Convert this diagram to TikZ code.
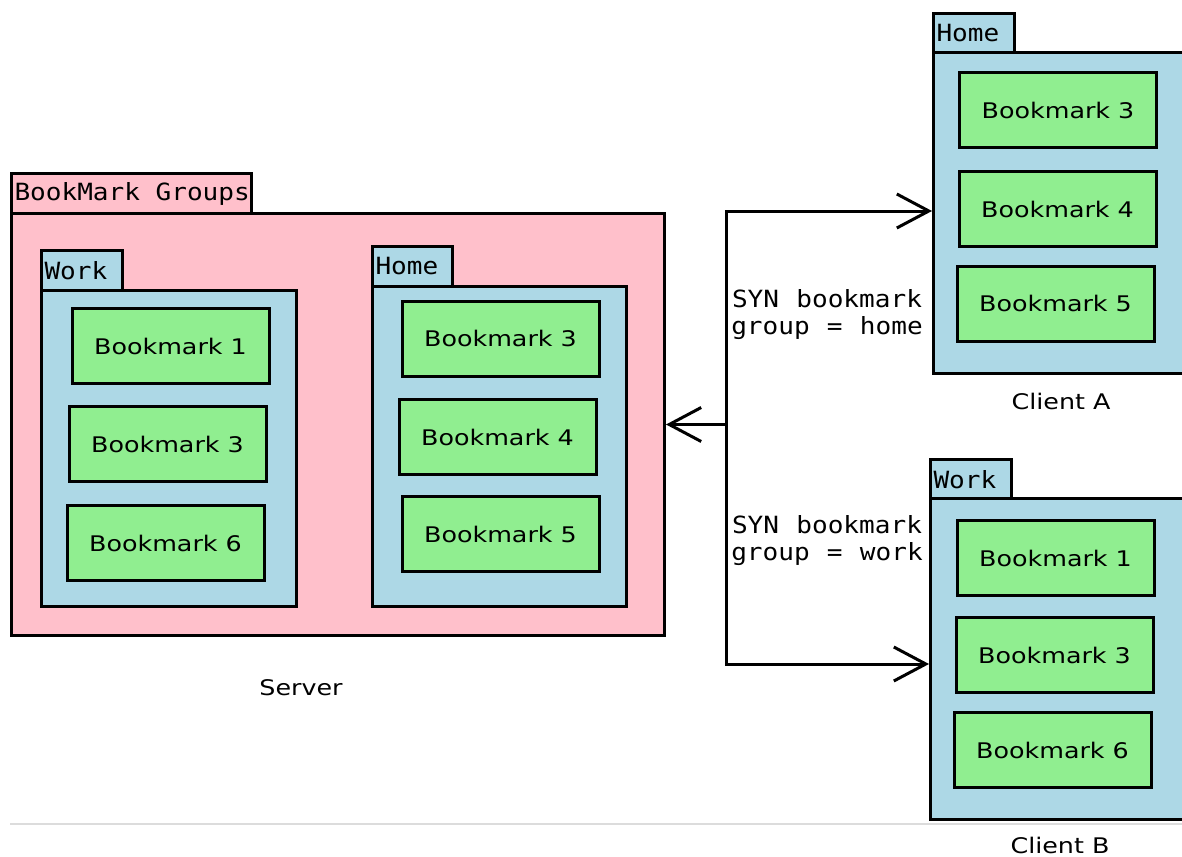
\documentclass[tikz,border=0pt]{standalone}
\usepackage{fontspec}
\setmainfont{DejaVu Sans}
\newfontfamily\boxfont[FakeStretch=1.18]{DejaVu Sans}
\newfontfamily\tabfont[FakeStretch=1.1, WordSpace={1.1,0,0}]{DejaVu Sans Mono}
\usepackage{tikz}
\usetikzlibrary{arrows.meta, positioning}

\definecolor{grouppink}{HTML}{FFC0CB}
\definecolor{folderblue}{HTML}{ADD8E6}
\definecolor{markgreen}{HTML}{90EE90}
\definecolor{rulegray}{HTML}{DCDCDC}

\tikzset{
  frame/.style={draw=black, line width=3pt, rectangle, inner sep=0pt, anchor=north west},
  tabbox/.style={frame, inner xsep=3pt, minimum height=40, align=left,
    font=\tabfont\fontsize{23.7}{27}\selectfont},
  bookmark/.style={draw=black, line width=3pt, fill=markgreen, minimum width=197,
    minimum height=75, font=\boxfont\fontsize{21.5}{26}\selectfont},
  caption/.style={font=\boxfont\fontsize{21.5}{26}\selectfont},
  synclabel/.style={align=center, font=\tabfont\fontsize{23.7}{27}\selectfont},
  synline/.style={line width=3pt, line cap=rect},
  syncarrow/.style={line width=3pt, -{Straight Barb[length=32pt,width=34pt]}}
}

\begin{document}
\begin{tikzpicture}[x=1pt,y=-1pt]
\useasboundingbox (0,0) rectangle (1182,856);
% the thin rule at the bottom
\draw[rulegray, line width=2pt] (10,824) -- (1182,824);
% the server with its two groups
\node[tabbox, fill=grouppink, text width=234] (servertab) at (10,172) {\mbox{BookMark\hspace{15.6pt}Groups}};
\node[frame, fill=grouppink, minimum width=653, minimum height=422] (server) at (10,212) {};
\node[tabbox, fill=folderblue, text width=75] (srvworktab) at (40,249) {Work};
\node[frame, fill=folderblue, minimum width=255, minimum height=316] (srvwork) at (40,289) {};
\node[tabbox, fill=folderblue, text width=74] (srvhometab) at (371,245) {Home};
\node[frame, fill=folderblue, minimum width=254, minimum height=320] (srvhome) at (371,285) {};
% the two clients
\node[tabbox, fill=folderblue, text width=75] (clienthometab) at (932,12) {Home};
\node[frame, fill=folderblue, minimum width=270, minimum height=321] (clienthome) at (932,51) {};
\node[tabbox, fill=folderblue, text width=75] (clientworktab) at (929,458) {Work};
\node[frame, fill=folderblue, minimum width=270, minimum height=321] (clientwork) at (929,497) {};
% we draw the bookmarks
\foreach \name/\x/\y/\num in {sw1/170.5/346/1, sw3/167.5/444/3, sw6/165.5/543/6,
  sh3/500.5/338.5/3, sh4/497.5/437/4, sh5/500.5/534/5,
  ch3/1058/110/3, ch4/1057.5/209/4, ch5/1055.5/303.5/5,
  cw1/1055.5/558/1, cw3/1054.5/655/3, cw6/1052.5/750/6}
{
  \node[bookmark] (\name) at (\x,\y) {Bookmark \num};
}
% the captions
\node[caption] (servername) at (301,688) {Server};
\node[caption] (clientaname) at (1061,401) {Client A};
\node[caption] (clientbname) at (1060,845) {Client B};
% we draw the sync lines
\coordinate (bustop) at (726,211);
\coordinate (busbottom) at (726,664);
\draw[synline] (bustop) -- (busbottom);
\draw[syncarrow] (bustop |- server.east) -- (server.east);
\draw[syncarrow] (bustop) -- (bustop -| clienthome.west);
\draw[syncarrow] (busbottom) -- (busbottom -| clientwork.west);
%
\node[synclabel] (synhome) at (827,315) {SYN bookmark\\group = home};
\node[synclabel] (synwork) at (827,541) {SYN bookmark\\group = work};
%
\end{tikzpicture}
\end{document}
